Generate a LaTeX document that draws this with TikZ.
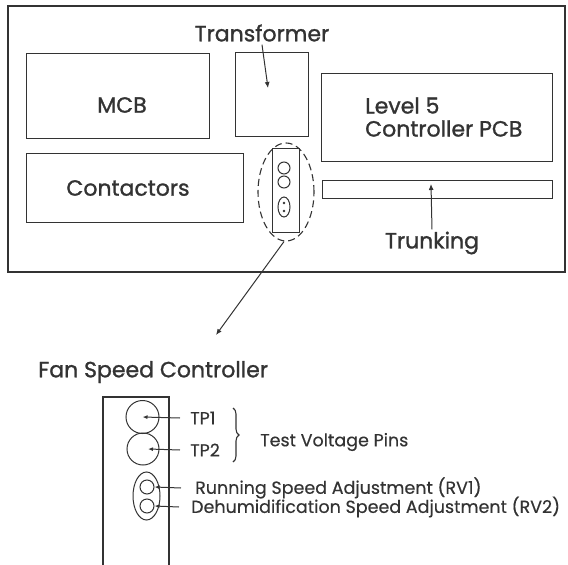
\documentclass[tikz,border=0pt]{standalone}
\usepackage{fontspec}
\setmainfont{Poppins}
\newfontfamily\labelfont{Poppins}[FakeBold=1.2]
\newfontfamily\notefont{Poppins}[FakeBold=0.4]
\usetikzlibrary{arrows.meta,shapes.geometric,decorations.pathreplacing}
\tikzset{>=latex}
\tikzset{
  part/.style={draw, line width=1.1pt, rectangle, inner sep=0pt, anchor=north west},
  tag/.style={font=\labelfont\fontsize{22}{23}\selectfont, inner sep=0pt},
  note/.style={font=\notefont\fontsize{17.5}{17.5}\selectfont, inner sep=0pt, anchor=west},
  pointer/.style={->, line width=1pt, >={Latex[length=6pt,width=5pt]}},
}

\begin{document}
\begin{tikzpicture}[x=1pt, y=-1pt, color=black!80]
  \useasboundingbox (0,0) rectangle (568,565);
  % panel
  \draw[line width=1.2pt] (8,6) rectangle (565,272);
  \node[part, minimum width=183, minimum height=85] (mcb) at (26,53) {};
  \node[part, minimum width=217, minimum height=69] (cont) at (26,153) {};
  \node[part, minimum width=73, minimum height=84] (trans) at (235,52) {};
  \node[part, minimum width=231, minimum height=88] (pcb) at (321,73) {};
  \node[part, minimum width=230, minimum height=18] (trunk) at (322,180) {};
  \node[tag] (mcbtext) at (122,105) {MCB};
  \node[tag] (conttext) at (128,188) {Contactors};
  \node[tag] (transtext) at (262,33) {Transformer};
  \node[tag, anchor=west, align=left] (pcbtext) at (365,117) {Level 5\\Controller PCB};
  \node[tag] (trunktext) at (432,243) {Trunking};
  \coordinate (transpt) at (268,88);
  \coordinate (trunkpt) at (431,184);
  \draw[pointer] (transtext.south) ++(0,3) -- (transpt);
  \draw[pointer] (trunktext.north) ++(0,-2) -- (trunkpt);
  % fan speed controller in the panel
  \node[part, line width=1pt, minimum width=27, minimum height=84] (fsc) at (272,148) {};
  \draw[line width=1pt] (284,168) circle (6);
  \draw[line width=1pt] (284,182) circle (6);
  \draw[line width=1pt] (284,207) ellipse (6 and 10);
  \fill (284,203) circle (1.3) (284,211) circle (1.3);
  \node[draw, dash pattern=on 7pt off 4pt, line width=1.1pt, ellipse, minimum width=56, minimum height=98, inner sep=0pt] (zoom) at (286,192) {};
  \coordinate (detail) at (216,335);
  \draw[pointer] (zoom.south) ++(-2,0) -- (detail);
  % enlarged view
  \node[tag, anchor=west] (fsctitle) at (38,372) {Fan Speed Controller};
  \draw[line width=1.1pt] (103,566) -- (103,397) coordinate (boxnw) -- (169,397) coordinate (boxne) -- (169,566);
  \node[draw, circle, line width=1pt, minimum size=33, inner sep=0pt] (tp1) at (142.5,417) {};
  \node[draw, circle, line width=1pt, minimum size=32, inner sep=0pt] (tp2) at (143,449) {};
  \node[draw, ellipse, line width=1pt, minimum width=27, minimum height=48, inner sep=0pt] (rvbox) at (146.5,496) {};
  \node[draw, circle, line width=1pt, minimum size=14, inner sep=0pt] (rv1) at (147,487) {};
  \node[draw, circle, line width=1pt, minimum size=14, inner sep=0pt] (rv2) at (147,506) {};
  \node[note] (tp1text) at (190,418) {TP1};
  \node[note] (tp2text) at (190,450) {TP2};
  \node[note] (rv1text) at (195,488) {Running Speed Adjustment (RV1)};
  \node[note] (rv2text) at (191,507) {Dehumidification Speed Adjustment (RV2)};
  \node[note] (pinstext) at (260,442) {Test Voltage Pins};
  \coordinate (bracetop) at (233,408);
  \coordinate (bracebot) at (233,462);
  \draw[line width=1.1pt, decorate, decoration={brace, amplitude=6pt}] (bracetop) -- (bracebot);
  \draw[pointer, >={Latex[length=5pt,width=4pt]}] (tp1text.west) ++(-10,0) -- (tp1.center);
  \draw[pointer, >={Latex[length=5pt,width=4pt]}] (tp2text.west) ++(-10,0) -- ([xshift=5pt]tp2.center);
  \draw[pointer, >={Latex[length=5pt,width=4pt]}] (rv1text.west) ++(-14,0) -- (rv1.east);
  \draw[pointer, >={Latex[length=5pt,width=4pt]}] (rv2text.west) ++(-12,0) -- (rv2.east);
\end{tikzpicture}
\end{document}
